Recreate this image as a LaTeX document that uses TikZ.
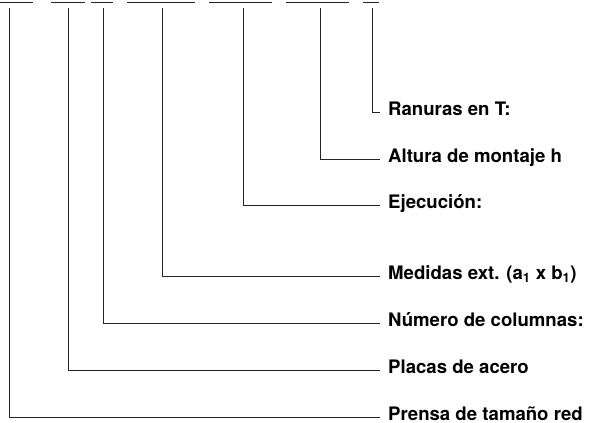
\documentclass[tikz,border=0pt]{standalone}
\usepackage{fontspec}
\setmainfont{TeX Gyre Heros}
\usetikzlibrary{positioning}
\tikzset{
  lbl/.style={
    anchor=base west,
    inner sep=0pt,
    font=\bfseries\fontsize{18.6}{22}\selectfont
  },
  leader/.style={line width=0.9pt, draw=black!85},
  field/.style={line width=1.3pt, draw=black!85}
}

\begin{document}
\begin{tikzpicture}[x=1pt, y=-1pt]
  \useasboundingbox (0,0) rectangle (598,423);

  % code fields along the top edge
  \draw[field] (0,2.3) -- (33,2.3);
  \draw[field] (51,2.3) -- (85,2.3);
  \draw[field] (91,2.3) -- (113,2.3);
  \draw[field] (127,2.3) -- (195,2.3);
  \draw[field] (209,2.3) -- (272,2.3);
  \draw[field] (286,2.3) -- (349,2.3);
  \draw[field] (363,2.3) -- (379,2.3);

  % where each leader starts
  \coordinate (tprensa) at (9,8);
  \coordinate (tplacas) at (68,8);
  \coordinate (tcolumnas) at (103,8);
  \coordinate (tmedidas) at (162,8);
  \coordinate (tejecucion) at (243,8);
  \coordinate (taltura) at (320,8);
  \coordinate (tranuras) at (372,8);

  % where each leader ends
  \coordinate (eranuras) at (380,112);
  \coordinate (ealtura) at (380,159);
  \coordinate (eejecucion) at (380,205);
  \coordinate (emedidas) at (380,276);
  \coordinate (ecolumnas) at (380,323);
  \coordinate (eplacas) at (380,370);
  \coordinate (eprensa) at (380,417);

  \node (ranuras) [lbl] at ([xshift=8pt,yshift=-3.5pt]eranuras) {Ranuras en T:};
  \node (altura) [lbl] at ([xshift=8pt,yshift=-3.5pt]ealtura) {Altura de montaje h};
  \node (ejecucion) [lbl] at ([xshift=8pt,yshift=-3.5pt]eejecucion) {Ejecución:};
  \node (medidas) [lbl] at ([xshift=8pt,yshift=-3.5pt]emedidas) {Medidas ext. (a\textsubscript{1} x b\textsubscript{1})};
  \node (columnas) [lbl] at ([xshift=8pt,yshift=-3.5pt]ecolumnas) {Número de columnas:};
  \node (placas) [lbl] at ([xshift=8pt,yshift=-3.5pt]eplacas) {Placas de acero};
  \node (prensa) [lbl] at ([xshift=8pt,yshift=-3.5pt]eprensa) {Prensa de tamaño red};

  \draw[leader] (tranuras) |- (eranuras);
  \draw[leader] (taltura) |- (ealtura);
  \draw[leader] (tejecucion) |- (eejecucion);
  \draw[leader] (tmedidas) |- (emedidas);
  \draw[leader] (tcolumnas) |- (ecolumnas);
  \draw[leader] (tplacas) |- (eplacas);
  \draw[leader] (tprensa) |- (eprensa);
\end{tikzpicture}
\end{document}
